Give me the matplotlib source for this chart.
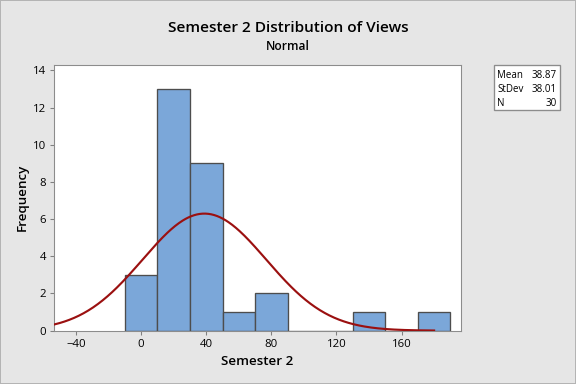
import numpy as np
import matplotlib.pyplot as plt
from matplotlib.patches import Rectangle

# histogram bins (left edges, width 20) and counts
bin_left = [-10, 10, 30, 50, 70, 90, 110, 130, 150, 170]
counts = [3, 13, 9, 1, 2, 0, 0, 1, 0, 1]
bin_width = 20

mean = 38.87
stdev = 38.01
n = 30
curve_range = (-53.5, 180)

xticks = [-40, 0, 40, 80, 120, 160]
yticks = [0, 2, 4, 6, 8, 10, 12, 14]

BG = "#e6e6e6"
BAR = "#7ba7d9"
EDGE = "#4d4d4d"
CURVE = "#9b1010"

plt.rcParams["font.family"] = ["Open Sans", "DejaVu Sans"]

fig = plt.figure(figsize=(6, 4), dpi=96, facecolor=BG)
fig.patches.append(Rectangle((0, 0), 1, 1, transform=fig.transFigure,
                             fill=False, edgecolor="#b4b4b4", lw=1.5))
ax = fig.add_axes([0.0938, 0.139, 0.7065, 0.692])

ax.bar(bin_left, counts, width=bin_width, align="edge",
       color=BAR, edgecolor=EDGE, linewidth=1.0, zorder=2)

xs = np.linspace(curve_range[0], curve_range[1], 400)
ys = n * bin_width * np.exp(-0.5 * ((xs - mean) / stdev) ** 2) / (stdev * np.sqrt(2 * np.pi))
ax.plot(xs, ys, color=CURVE, lw=1.6, zorder=3)

ax.set_xlim(-53.5, 196.5)
ax.set_ylim(0, 14.3)
ax.set_xticks(xticks)
ax.set_yticks(yticks)
ax.tick_params(labelsize=8.5, length=3, color="#808080", pad=3)
for s in ax.spines.values():
    s.set_color("#8c8c8c")

ax.set_xlabel("Semester 2", fontsize=10, fontweight="semibold", labelpad=4)
ax.set_ylabel("Frequency", fontsize=10, fontweight="semibold", labelpad=3)

fig.text(0.5, 0.927, "Semester 2 Distribution of Views", ha="center", va="center",
         fontsize=11.5, fontweight="semibold")
fig.text(0.5, 0.88, "Normal", ha="center", va="center",
         fontsize=9, fontweight="semibold")

# stats box
fig.patches.append(Rectangle((494 / 576, 1 - 110 / 384), 66 / 576, 45 / 384,
                             transform=fig.transFigure, facecolor="white",
                             edgecolor="#8c8c8c", lw=1))
labels = ["Mean", "StDev", "N"]
values = [f"{mean:.2f}", f"{stdev:.2f}", f"{n}"]
for i, (lab, val) in enumerate(zip(labels, values)):
    y = 1 - (75 + i * 14) / 384
    fig.text(497 / 576, y, lab, fontsize=7.3, va="center", ha="left")
    fig.text(557 / 576, y, val, fontsize=7.3, va="center", ha="right")

fig.savefig("out.png", dpi=96, facecolor=BG)
